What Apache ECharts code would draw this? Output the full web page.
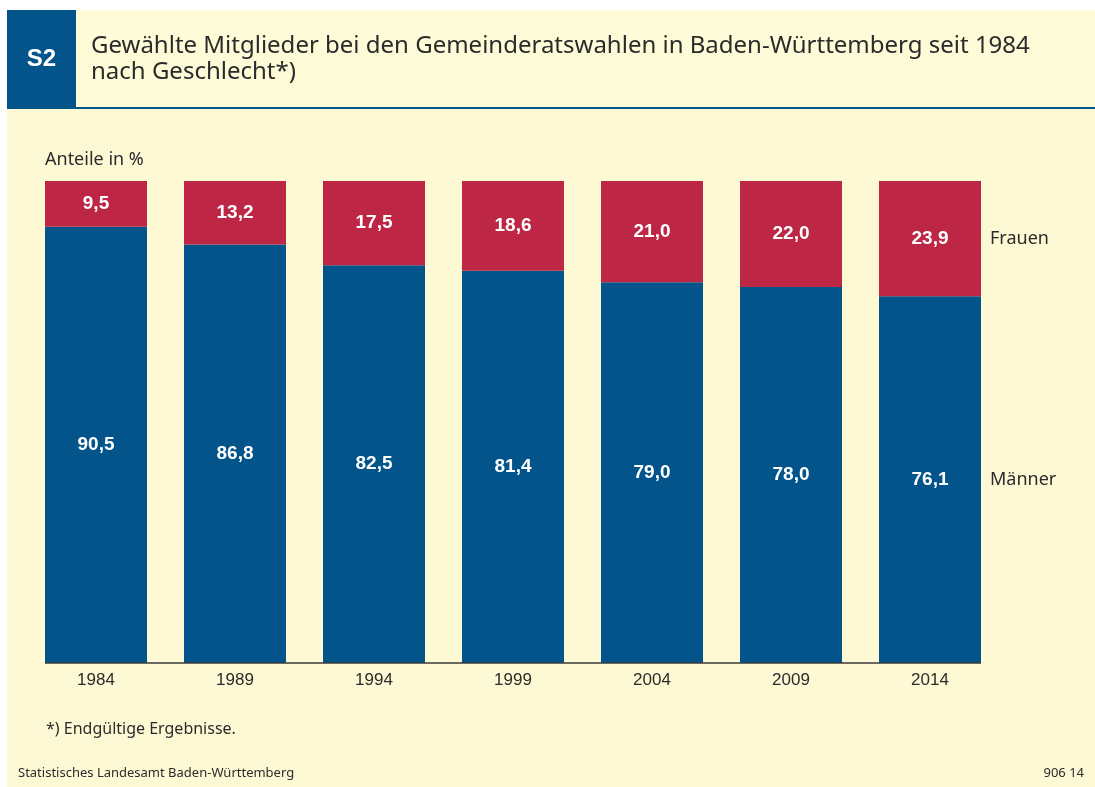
<!DOCTYPE html>
<html>
<head>
<meta charset="utf-8">
<script src="https://cdn.jsdelivr.net/npm/echarts@6/dist/echarts.min.js"></script>
<style>
  html, body { margin: 0; padding: 0; background: #ffffff; }
  #chart { width: 1095px; height: 787px; }
</style>
</head>
<body>
<div id="chart"></div>
<script>
const years = ["1984", "1989", "1994", "1999", "2004", "2009", "2014"];
const maenner = [90.5, 86.8, 82.5, 81.4, 79.0, 78.0, 76.1];
const frauen = [9.5, 13.2, 17.5, 18.6, 21.0, 22.0, 23.9];
const seriesNames = ["Männer", "Frauen"];

const BLUE = "#02548a";
const RED = "#bd2645";
const TEXT = "#2b2b2b";
const FONT = "'Liberation Sans', Arial, sans-serif";
const FONT_TXT = "'Noto Sans', 'Liberation Sans', sans-serif";

const fmt = (v) => v.toFixed(1).replace(".", ",");

const chart = echarts.init(document.getElementById("chart"));

const segLabel = {
  show: true,
  position: "inside",
  color: "#ffffff",
  fontFamily: FONT,
  fontWeight: "bold",
  fontSize: 19,
  formatter: (p) => fmt(p.value),
};

// Hintergrundflächen und freie Texte
const baseGraphic = [
  { type: "rect", z: -10, shape: { x: 7, y: 10, width: 1088, height: 777 }, style: { fill: "#fdf9d5" } },
  { type: "rect", z: -9, shape: { x: 7, y: 10, width: 1088, height: 97 }, style: { fill: "#fefbd9" } },
  { type: "rect", z: -8, shape: { x: 7, y: 10, width: 69, height: 98 }, style: { fill: BLUE } },
  { type: "rect", z: -8, shape: { x: 7, y: 107, width: 1088, height: 2 }, style: { fill: BLUE } },
  { type: "text", x: 41.5, y: 59, style: { text: "S2", fill: "#fff", font: "bold 24px " + FONT, align: "center", verticalAlign: "middle" } },
  { type: "text", x: 91, y: 46, style: { text: "Gewählte Mitglieder bei den Gemeinderatswahlen in Baden-Württemberg seit 1984", fill: TEXT, font: "24px " + FONT_TXT, verticalAlign: "middle" } },
  { type: "text", x: 91, y: 72, style: { text: "nach Geschlecht*)", fill: TEXT, font: "24px " + FONT_TXT, verticalAlign: "middle" } },
  { type: "text", x: 45, y: 160, style: { text: "Anteile in %", fill: TEXT, font: "18px " + FONT_TXT, verticalAlign: "middle" } },
  { type: "text", x: 46, y: 729, style: { text: "*) Endgültige Ergebnisse.", fill: TEXT, font: "16px " + FONT_TXT, verticalAlign: "middle" } },
  { type: "text", x: 18, y: 773, style: { text: "Statistisches Landesamt Baden-Württemberg", fill: TEXT, font: "13px " + FONT_TXT, verticalAlign: "middle" } },
  { type: "text", x: 1084, y: 773, style: { text: "906 14", fill: TEXT, font: "13px " + FONT_TXT, align: "right", verticalAlign: "middle" } },
];

chart.setOption({
  backgroundColor: "#ffffff",
  animation: false,
  graphic: baseGraphic,
  grid: { left: 26.5, right: 95.5, top: 181, bottom: 124 },
  xAxis: {
    type: "category",
    data: years,
    axisLine: { show: false },
    axisTick: { show: false },
    axisLabel: { color: TEXT, fontFamily: FONT, fontSize: 17, margin: 9 },
  },
  yAxis: {
    type: "value",
    min: 0,
    max: 100,
    show: false,
    splitLine: { show: false },
  },
  series: [
    {
      name: seriesNames[0],
      type: "bar",
      stack: "total",
      barWidth: 102,
      data: maenner,
      itemStyle: { color: BLUE },
      label: segLabel,
    },
    {
      name: seriesNames[1],
      type: "bar",
      stack: "total",
      barWidth: 102,
      data: frauen,
      itemStyle: { color: RED },
      label: segLabel,
    },
  ],
});

// Achsenlinie von Balkenkante zu Balkenkante, Reihenbeschriftung rechts neben dem letzten Balken
const last = years.length - 1;
const half = 51;
const x0 = chart.convertToPixel({ xAxisIndex: 0 }, years[0]) - half;
const x1 = chart.convertToPixel({ xAxisIndex: 0 }, years[last]) + half;
const yBase = chart.convertToPixel({ yAxisIndex: 0 }, 0);
const yM = chart.convertToPixel({ yAxisIndex: 0 }, maenner[last] / 2);
const yF = chart.convertToPixel({ yAxisIndex: 0 }, maenner[last] + frauen[last] / 2);

chart.setOption({
  graphic: baseGraphic.concat([
    { type: "line", z: 10, shape: { x1: x0, y1: yBase, x2: x1, y2: yBase }, style: { stroke: "#3a3a3a", lineWidth: 1.5 } },
    { type: "text", x: x1 + 9, y: yF, style: { text: seriesNames[1], fill: TEXT, font: "18px " + FONT_TXT, verticalAlign: "middle" } },
    { type: "text", x: x1 + 9, y: yM, style: { text: seriesNames[0], fill: TEXT, font: "18px " + FONT_TXT, verticalAlign: "middle" } },
  ]),
}, { replaceMerge: ["graphic"] });
</script>
</body>
</html>
